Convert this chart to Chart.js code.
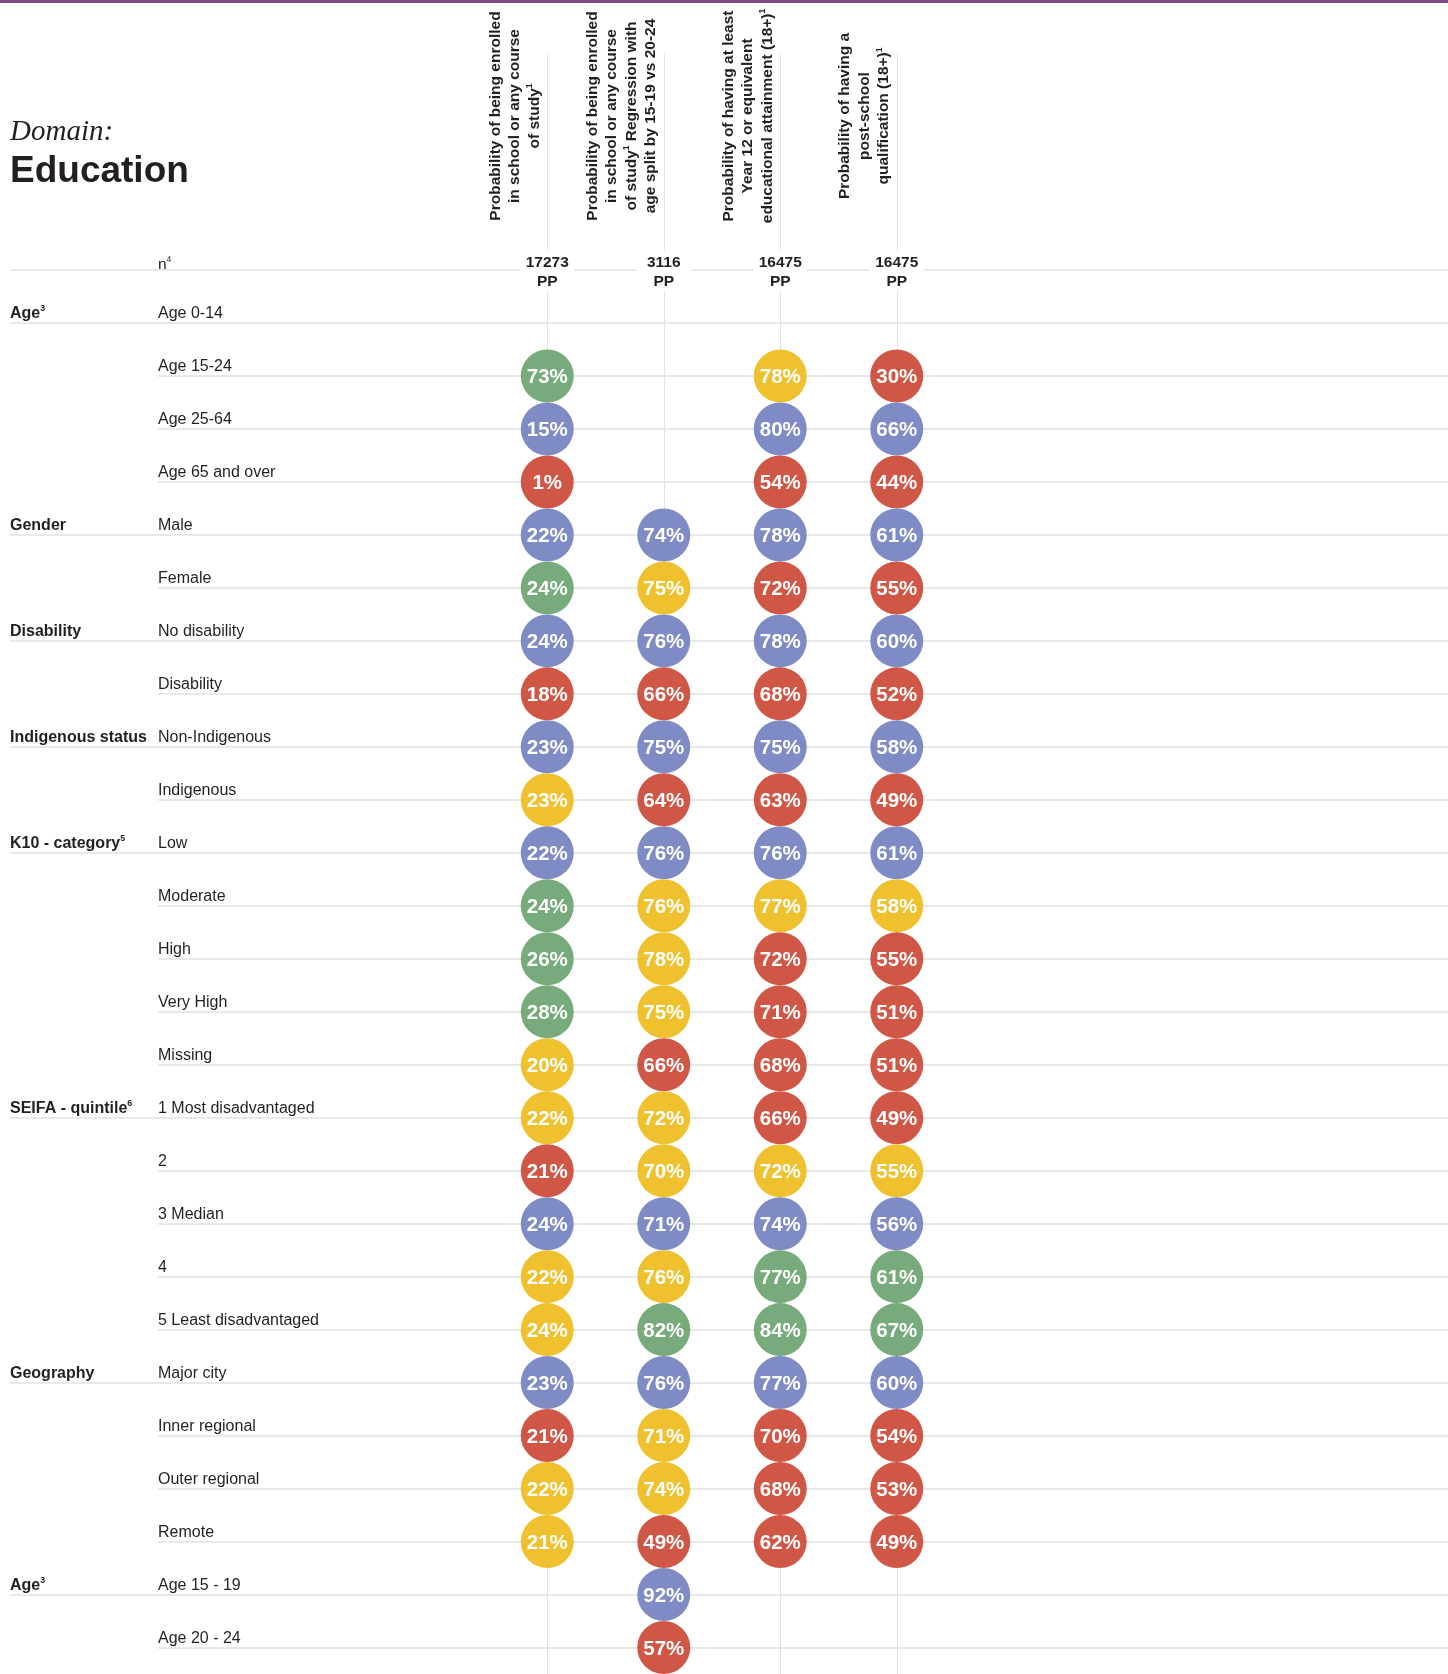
<!DOCTYPE html>
<html>
<head>
<meta charset="utf-8">
<title>Domain: Education</title>
<script src="https://cdn.jsdelivr.net/npm/chart.js@4.4.1/dist/chart.umd.min.js"></script>
<style>
    html, body { margin: 0; padding: 0; background: #fff; }
    canvas { display: block; }
</style>
</head>
<body>
<canvas id="eduChart" width="1448" height="1674"></canvas>
<script>
// rows, top to bottom
const rowLabels = [
    'Age 0-14', 'Age 15-24', 'Age 25-64', 'Age 65 and over',
    'Male', 'Female',
    'No disability', 'Disability',
    'Non-Indigenous', 'Indigenous',
    'Low', 'Moderate', 'High', 'Very High', 'Missing',
    '1 Most disadvantaged', '2', '3 Median', '4', '5 Least disadvantaged',
    'Major city', 'Inner regional', 'Outer regional', 'Remote',
    'Age 15 - 19', 'Age 20 - 24'
];

// group names (^ marks a footnote number) and the row where each starts
const groupLabels = ['Age^3', 'Gender', 'Disability', 'Indigenous status', 'K10 - category^5', 'SEIFA - quintile^6', 'Geography', 'Age^3'];
const groupStartRows = [0, 4, 6, 8, 10, 15, 20, 24];

const columnKeys = ['enrolled', 'enrolledSplit', 'year12', 'postSchool'];
const columnTitles = [
    ['Probability of being enrolled', 'in school or any course', 'of study^1'],
    ['Probability of being enrolled', 'in school or any course', 'of study^1 Regression with', 'age split by 15-19 vs 20-24'],
    ['Probability of having at least', 'Year 12 or equivalent', 'educational attainment (18+)^1'],
    ['Probability of having a', 'post-school', 'qualification (18+)^1']
];
const sampleSizes = ['17273', '3116', '16475', '16475'];

// predicted probability (%) per row, null = not reported
const enrolled      = [null, 73, 15, 1, 22, 24, 24, 18, 23, 23, 22, 24, 26, 28, 20, 22, 21, 24, 22, 24, 23, 21, 22, 21, null, null];
const enrolledSplit = [null, null, null, null, 74, 75, 76, 66, 75, 64, 76, 76, 78, 75, 66, 72, 70, 71, 76, 82, 76, 71, 74, 49, 92, 57];
const year12        = [null, 78, 80, 54, 78, 72, 78, 68, 75, 63, 76, 77, 72, 71, 68, 66, 72, 74, 77, 84, 77, 70, 68, 62, null, null];
const postSchool    = [null, 30, 66, 44, 61, 55, 60, 52, 58, 49, 61, 58, 55, 51, 51, 49, 55, 56, 61, 67, 60, 54, 53, 49, null, null];

// circle colour codes: B reference, G higher, R lower, Y not significant
const enrolledCodes      = ['', 'G', 'B', 'R', 'B', 'G', 'B', 'R', 'B', 'Y', 'B', 'G', 'G', 'G', 'Y', 'Y', 'R', 'B', 'Y', 'Y', 'B', 'R', 'Y', 'Y', '', ''];
const enrolledSplitCodes = ['', '', '', '', 'B', 'Y', 'B', 'R', 'B', 'R', 'B', 'Y', 'Y', 'Y', 'R', 'Y', 'Y', 'B', 'Y', 'G', 'B', 'Y', 'Y', 'R', 'B', 'R'];
const year12Codes        = ['', 'Y', 'B', 'R', 'B', 'R', 'B', 'R', 'B', 'R', 'B', 'Y', 'R', 'R', 'R', 'R', 'Y', 'B', 'G', 'G', 'B', 'R', 'R', 'R', '', ''];
const postSchoolCodes    = ['', 'R', 'B', 'R', 'B', 'R', 'B', 'R', 'B', 'R', 'B', 'Y', 'R', 'R', 'R', 'R', 'Y', 'B', 'G', 'G', 'B', 'R', 'R', 'R', '', ''];

const palette = { B: '#7f8bc4', G: '#77ab7b', R: '#d05646', Y: '#f0c12f' };
const INK = '#231f20';
const FONT = '"Liberation Sans", Arial, Helvetica, sans-serif';

const seriesValues = [enrolled, enrolledSplit, year12, postSchool];
const seriesCodes = [enrolledCodes, enrolledSplitCodes, year12Codes, postSchoolCodes];

// text with a small raised footnote number, e.g. 'of study^1'
function drawRich(ctx, str, x, y, size, weight, align) {
    const segs = str.split('^');
    const parts = [{ t: segs[0], sup: false }];
    segs.slice(1).forEach(s => {
        parts.push({ t: s[0], sup: true });
        if (s.length > 1) parts.push({ t: s.slice(1), sup: false });
    });
    const base = `${weight} ${size}px ${FONT}`;
    const small = `${weight} ${size * 0.55}px ${FONT}`;
    let total = 0;
    parts.forEach(p => {
        ctx.font = p.sup ? small : base;
        p.w = ctx.measureText(p.t).width;
        total += p.w;
    });
    let cx = align === 'center' ? x - total / 2 : x;
    ctx.textAlign = 'left';
    ctx.textBaseline = 'alphabetic';
    parts.forEach(p => {
        ctx.font = p.sup ? small : base;
        ctx.fillText(p.t, cx, p.sup ? y - size * 0.42 : y);
        cx += p.w;
    });
}

const tableDecor = {
    id: 'tableDecor',
    beforeDatasetsDraw(chart) {
        const { ctx, width, height } = chart;
        const xs = chart.scales.x;
        const ys = chart.scales.y;
        const rowGap = ys.getPixelForValue(1) - ys.getPixelForValue(0);
        const nLineY = Math.round(ys.getPixelForValue(0) - rowGap);

        ctx.save();
        ctx.fillStyle = '#fff';
        ctx.fillRect(0, 0, width, height);

        // purple strip on top
        ctx.fillStyle = '#7d4a87';
        ctx.fillRect(0, 0, width, 3);

        // domain title
        ctx.fillStyle = INK;
        ctx.textAlign = 'left';
        ctx.textBaseline = 'alphabetic';
        ctx.font = 'italic 29px "Liberation Serif", "Times New Roman", serif';
        ctx.fillText('Domain:', 10, 140);
        ctx.font = `bold 37px ${FONT}`;
        ctx.fillText('Education', 10, 182);

        // column rules
        ctx.strokeStyle = '#e2e2e2';
        ctx.lineWidth = 1;
        columnKeys.forEach(k => {
            const px = Math.round(xs.getPixelForValue(k)) + 0.5;
            ctx.beginPath();
            ctx.moveTo(px, 53);
            ctx.lineTo(px, height);
            ctx.stroke();
        });

        // row rules
        ctx.strokeStyle = '#e9e9e9';
        ctx.lineWidth = 2;
        ctx.beginPath();
        ctx.moveTo(10, nLineY);
        ctx.lineTo(width, nLineY);
        ctx.stroke();
        rowLabels.forEach((lab, i) => {
            const py = Math.round(ys.getPixelForValue(i));
            const startX = groupStartRows.includes(i) ? 10 : 158;
            ctx.beginPath();
            ctx.moveTo(startX, py);
            ctx.lineTo(width, py);
            ctx.stroke();
        });

        // row and group labels
        ctx.fillStyle = INK;
        rowLabels.forEach((lab, i) => {
            const py = ys.getPixelForValue(i) - 5;
            drawRich(ctx, lab, 158, py, 16, 'normal', 'left');
        });
        groupLabels.forEach((lab, g) => {
            const py = ys.getPixelForValue(groupStartRows[g]) - 5;
            drawRich(ctx, lab, 10, py, 16, 'bold', 'left');
        });

        // n row
        drawRich(ctx, 'n^4', 158, nLineY - 1, 15.5, 'normal', 'left');
        columnKeys.forEach((k, c) => {
            const px = xs.getPixelForValue(k);
            ctx.fillStyle = '#fff';
            ctx.fillRect(px - 27, nLineY - 19, 54, 40);
            ctx.fillStyle = INK;
            ctx.font = `bold 15.5px ${FONT}`;
            ctx.textAlign = 'center';
            ctx.textBaseline = 'alphabetic';
            ctx.fillText(sampleSizes[c], px, nLineY - 3);
            ctx.fillText('PP', px, nLineY + 16);
        });

        // rotated column headings
        columnTitles.forEach((lines, c) => {
            const px = xs.getPixelForValue(columnKeys[c]);
            lines.forEach((line, k) => {
                const lx = px - 14 - (lines.length - 1 - k) * 19.5;
                ctx.save();
                ctx.translate(lx, 116);
                ctx.rotate(-Math.PI / 2);
                ctx.fillStyle = INK;
                drawRich(ctx, line, 0, 15.5 * 0.36, 15.5, 'bold', 'center');
                ctx.restore();
            });
        });
        ctx.restore();
    },
    afterDatasetsDraw(chart) {
        const { ctx } = chart;
        ctx.save();
        ctx.fillStyle = '#fff';
        ctx.font = `bold 20.5px ${FONT}`;
        ctx.textAlign = 'center';
        ctx.textBaseline = 'alphabetic';
        chart.data.datasets.forEach((ds, d) => {
            chart.getDatasetMeta(d).data.forEach((pt, j) => {
                ctx.fillText(ds.data[j].v + '%', pt.x, pt.y + 7.5);
            });
        });
        ctx.restore();
    }
};

const datasets = columnKeys.map((key, c) => ({
    label: key,
    data: seriesValues[c]
        .map((v, i) => ({ x: key, y: rowLabels[i], v: v, code: seriesCodes[c][i] }))
        .filter(p => p.v !== null),
    backgroundColor: ctx => palette[ctx.raw ? ctx.raw.code : 'B'],
    borderWidth: 0,
    pointRadius: 26.5,
    pointHoverRadius: 26.5,
    clip: false
}));

new Chart(document.getElementById('eduChart'), {
    type: 'scatter',
    data: { datasets: datasets },
    options: {
        responsive: false,
        devicePixelRatio: 1,
        animation: false,
        events: [],
        layout: { padding: { left: 489, right: 493, top: 323, bottom: 24 } },
        scales: {
            x: { type: 'category', labels: columnKeys, offset: true, display: false },
            y: { type: 'category', labels: rowLabels, offset: false, display: false }
        },
        plugins: {
            legend: { display: false },
            tooltip: { enabled: false }
        }
    },
    plugins: [tableDecor]
});
</script>
</body>
</html>
